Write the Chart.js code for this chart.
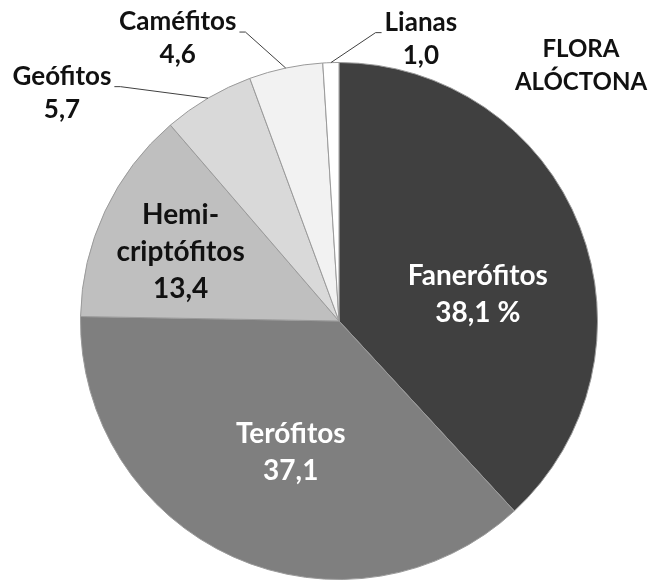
<!DOCTYPE html>
<html>
<head>
<meta charset="utf-8">
<script src="https://cdn.jsdelivr.net/npm/chart.js@4/dist/chart.umd.min.js"></script>
<style>
  html, body { margin: 0; padding: 0; background: #fff; }
  #wrap { width: 649px; height: 582px; }
</style>
</head>
<body>
<div id="wrap"><canvas id="chart-area" width="649" height="582"></canvas></div>
<script>
  'use strict';

  // chart data
  var categories = ['Fanerófitos', 'Terófitos', ['Hemi-', 'criptófitos'], 'Geófitos', 'Caméfitos', 'Lianas'];
  var values = [38.1, 37.1, 13.4, 5.7, 4.6, 1.0];
  var titleLines = ['FLORA', 'ALÓCTONA'];

  var sliceColors = ['#404040', '#7f7f7f', '#bfbfbf', '#d9d9d9', '#f2f2f2', '#ffffff'];
  var textColors = ['#ffffff', '#ffffff', '#111111', '#111111', '#111111', '#111111'];

  // where each label goes: inside (radius fraction + angle nudge) or outside (offset from arc edge)
  var placement = [
    { inside: true, frac: 0.547, shift: 10.4 },
    { inside: true, frac: 0.542, shift: -4.0 },
    { inside: true, frac: 0.668, shift: -1.7 },
    { inside: false, dx: -146, dy: -13.5 },
    { inside: false, dx: -108, dy: -38 },
    { inside: false, dx: 90, dy: -32 }
  ];

  function fmt(v, i) {
    var s = v.toFixed(1).replace('.', ',');
    return i === 0 ? s + ' %' : s;
  }

  var labelPlugin = {
    id: 'pieLabels',
    afterDatasetsDraw: function (chart) {
      var ctx = chart.ctx;
      var arcs = chart.getDatasetMeta(0).data;
      ctx.save();
      arcs.forEach(function (arc, i) {
        var p = arc.getProps(['x', 'y', 'startAngle', 'endAngle', 'outerRadius'], true);
        var mid = (p.startAngle + p.endAngle) / 2;
        var name = categories[i];
        var lines = (Array.isArray(name) ? name.slice() : [name]);
        lines.push(fmt(values[i], i));
        var pl = placement[i];
        ctx.fillStyle = textColors[i];
        ctx.textAlign = 'center';

        if (pl.inside) {
          ctx.font = 'bold 28px Lato';
          ctx.textBaseline = 'middle';
          var a = mid + pl.shift * Math.PI / 180;
          var cx = p.x + Math.cos(a) * p.outerRadius * pl.frac;
          var cy = p.y + Math.sin(a) * p.outerRadius * pl.frac;
          var lh = 37;
          lines.forEach(function (t, k) {
            ctx.fillText(t, cx, cy + (k - (lines.length - 1) / 2) * lh);
          });
        } else {
          ctx.font = 'bold 26px Lato';
          ctx.textBaseline = 'alphabetic';
          var ex = p.x + Math.cos(mid) * p.outerRadius;
          var ey = p.y + Math.sin(mid) * p.outerRadius;
          var tx = ex + pl.dx;
          var ty = ey + pl.dy;
          lines.forEach(function (t, k) {
            ctx.fillText(t, tx, ty + k * 33);
          });
          // leader line
          var w = ctx.measureText(lines[0]).width;
          var side = pl.dx < 0 ? 1 : -1;
          var sx = tx + side * (w / 2 + 3);
          var sy = ty + 2;
          ctx.strokeStyle = '#404040';
          ctx.lineWidth = 1;
          ctx.beginPath();
          ctx.moveTo(sx, sy);
          ctx.lineTo(sx + side * 6, sy);
          ctx.lineTo(ex, ey);
          ctx.stroke();
        }
      });

      // title text, top right
      ctx.fillStyle = '#111111';
      ctx.font = 'bold 24px Lato';
      ctx.textAlign = 'center';
      ctx.textBaseline = 'alphabetic';
      titleLines.forEach(function (t, k) {
        ctx.fillText(t, 581, 57 + k * 33);
      });
      ctx.restore();
    }
  };

  var ctx = document.getElementById('chart-area').getContext('2d');
  window.myPie = new Chart(ctx, {
    type: 'pie',
    data: {
      labels: categories,
      datasets: [{
        data: values,
        backgroundColor: sliceColors,
        borderColor: '#9a9a9a',
        borderWidth: 1
      }]
    },
    options: {
      responsive: false,
      animation: false,
      layout: { padding: { left: 80, right: 51, top: 62, bottom: 2 } },
      plugins: {
        legend: { display: false },
        tooltip: { enabled: false }
      }
    },
    plugins: [labelPlugin]
  });
</script>
</body>
</html>
